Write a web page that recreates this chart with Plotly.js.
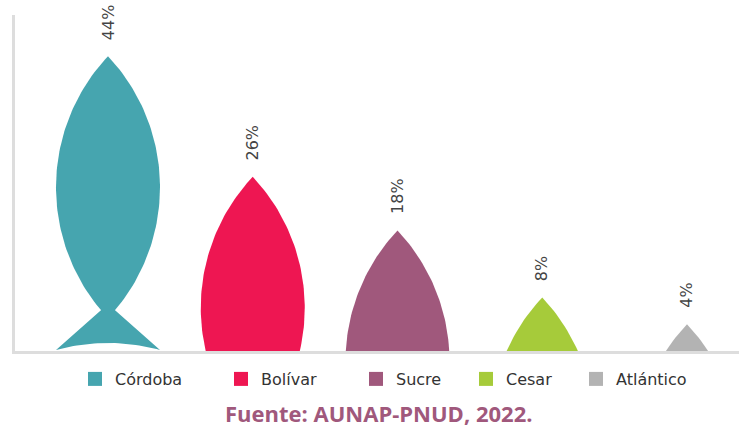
<!DOCTYPE html>
<html>
<head>
<meta charset="utf-8">
<script src="https://cdn.plot.ly/plotly-3.0.1.min.js"></script>
<style>html,body{margin:0;padding:0;background:#fff;}#chart{width:739px;height:427px;}</style>
</head>
<body>
<div id="chart"></div>
<script>
// ---- data ----
const categories = ['Córdoba', 'Bolívar', 'Sucre', 'Cesar', 'Atlántico'];
const values = [44, 26, 18, 8, 4];
const valueLabels = ['44%', '26%', '18%', '8%', '4%'];
const colors = ['#46A5AF', '#EE1652', '#A0587C', '#A6CB3A', '#B3B3B3'];
const sourceText = 'Fuente: AUNAP-PNUD, 2022.';

// ---- geometry (style) ----
const W = 739, H = 427;
const margin = {l: 15, r: 0, t: 15, b: 76};
const plotW = W - margin.l - margin.r;
const plotH = H - margin.t - margin.b;
const xRange = [-0.6425, -0.6425 + plotW / 144.75];
const yRange = [0, plotH / 6.7];
const kx = (xRange[1] - xRange[0]) / plotW; // data units per px
const ky = (yRange[1] - yRange[0]) / plotH;
const legendMarkerPx = [94, 240, 375, 485, 595];

// lens (fish body) in pixel terms
const L = 131, HW = 52;
const R = (L * L + HW * HW) / (2 * HW);
function halfW(d) { return Math.sqrt(Math.max(0, R * R - (L - d) * (L - d))) - (R - HW); }

function bodyShape(i, v) {
  const right = [], left = [];
  const n = 80;
  for (let k = 0; k <= n; k++) {
    const d = 2 * L * k / n;
    let y = v - d * ky;
    let dd = d;
    if (y < 0) { y = 0; dd = v / ky; }
    const w = halfW(dd) * kx;
    right.push([i + w, y]);
    left.unshift([i - w, y]);
    if (y === 0) break;
  }
  const pts = right.concat(left);
  return {x: pts.map(p => p[0]), y: pts.map(p => p[1])};
}

function tailShape(i) {
  const pts = [[i, 47 * ky]];
  const m = 30;
  for (let k = 0; k <= m; k++) {
    const t = 1 - 2 * k / m;
    pts.push([i + t * HW * kx, (1 + 7 * (1 - t * t)) * ky]);
  }
  pts.push([i, 47 * ky]);
  return {x: pts.map(p => p[0]), y: pts.map(p => p[1])};
}

const traces = [];
categories.forEach((c, i) => {
  const v = values[i];
  const b = bodyShape(i, v);
  traces.push({type: 'scatter', mode: 'lines', x: b.x, y: b.y, fill: 'toself',
    fillcolor: colors[i], line: {width: 0, color: colors[i]}, hoverinfo: 'skip', showlegend: false});
  if (v / ky > 2 * L) {
    const t = tailShape(i);
    traces.push({type: 'scatter', mode: 'lines', x: t.x, y: t.y, fill: 'toself',
      fillcolor: colors[i], line: {width: 0, color: colors[i]}, hoverinfo: 'skip', showlegend: false});
  }
});

const condensed = '"DejaVu Sans", sans-serif';
const legendFont = {family: condensed, size: 16, color: '#333', stretch: 'condensed'};

const layout = {
  width: W, height: H, margin: margin,
  paper_bgcolor: '#fff', plot_bgcolor: '#fff',
  showlegend: true,
  xaxis: {range: xRange, showgrid: false, zeroline: false, showticklabels: false, ticks: '',
    showline: true, linecolor: '#DDDDDD', linewidth: 3, fixedrange: true},
  yaxis: {range: yRange, showgrid: false, zeroline: false, showticklabels: false, ticks: '',
    showline: true, linecolor: '#DDDDDD', linewidth: 3, fixedrange: true},
  annotations: []
};

categories.forEach((c, i) => {
  const key = i === 0 ? 'legend' : 'legend' + (i + 1);
  traces.push({type: 'scatter', mode: 'markers', x: [null], y: [null], name: c,
    legend: key, marker: {symbol: 'square', size: 14, color: colors[i]}, showlegend: true});
  layout[key] = {orientation: 'h', x: (legendMarkerPx[i] - 19 - margin.l) / plotW, xanchor: 'left',
    y: -(379 - (margin.t + plotH)) / plotH, yanchor: 'middle',
    font: legendFont, bgcolor: 'rgba(0,0,0,0)'};
});

categories.forEach((c, i) => {
  layout.annotations.push({
    x: i, y: values[i], xref: 'x', yref: 'y', text: valueLabels[i], showarrow: false,
    textangle: -90, yanchor: 'bottom', xanchor: 'center', yshift: 14,
    font: {family: condensed, size: 16, color: '#444', stretch: 'condensed'}
  });
});
layout.annotations.push({
  x: (378 - margin.l) / plotW, y: -(413 - (margin.t + plotH)) / plotH, xref: 'paper', yref: 'paper',
  text: '<b>' + sourceText + '</b>', showarrow: false, xanchor: 'center', yanchor: 'middle',
  font: {family: '"Open Sans", sans-serif', size: 22, color: '#A0587C'}
});

Plotly.newPlot('chart', traces, layout, {displayModeBar: false, staticPlot: true});
</script>
</body>
</html>
